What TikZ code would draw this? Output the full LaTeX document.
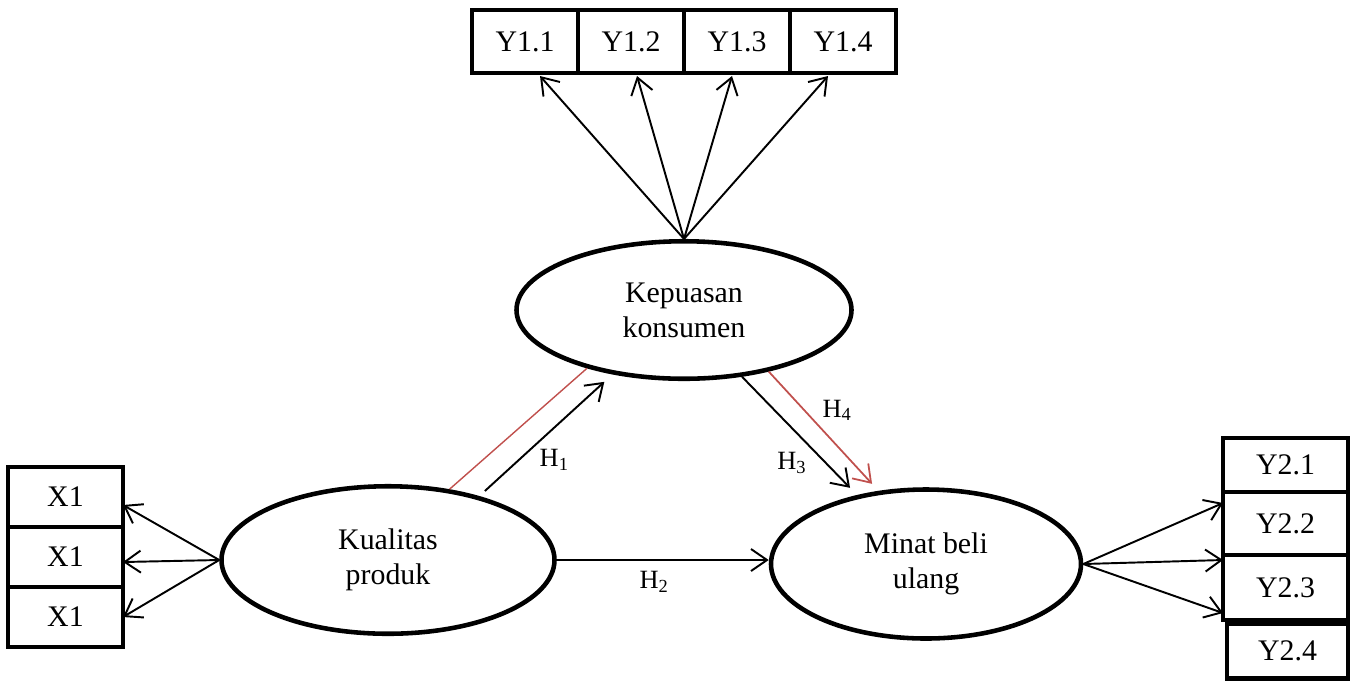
\documentclass[tikz,border=0pt]{standalone}
\usepackage{fontspec}
\setmainfont{Liberation Serif}
\usetikzlibrary{shapes.geometric,arrows.meta}
\definecolor{hred}{RGB}{192,80,77}

\tikzset{
  indikator/.style={draw, line width=2.4pt, minimum height=1.26cm, inner sep=0pt, outer sep=0pt, font=\fontsize{17}{20}\selectfont},
  variabel/.style={ellipse, draw, line width=2.6pt, align=center, font=\fontsize{17}{20}\selectfont},
  panah/.style={-{Straight Barb[length=3.2mm,width=4.4mm]}, line width=1.1pt},
  hlabel/.style={font=\fontsize{15}{18}\selectfont, inner sep=2pt}
}

\begin{document}
\begin{tikzpicture}
  \useasboundingbox (0,0) rectangle (27.08,-13.64);
  % variabel laten
  \node[variabel, minimum width=6.7cm, minimum height=2.75cm] (kep) at (13.68,-6.2) {Kepuasan\\konsumen};
  \node[variabel, minimum width=6.66cm, minimum height=2.95cm] (kual) at (7.76,-11.2) {Kualitas\\produk};
  \node[variabel, minimum width=6.2cm, minimum height=2.98cm] (minat) at (18.52,-11.28) {Minat beli\\ulang};

  % indikator Y1
  \node[indikator, minimum width=2.12cm] (y11) at (10.50,-0.83) {Y1.1};
  \node[indikator, minimum width=2.12cm] (y12) at (12.62,-0.83) {Y1.2};
  \node[indikator, minimum width=2.12cm] (y13) at (14.74,-0.83) {Y1.3};
  \node[indikator, minimum width=2.12cm] (y14) at (16.86,-0.83) {Y1.4};

  % indikator X
  \node[indikator, minimum width=2.3cm, minimum height=1.2cm] (x1a) at (1.31,-9.94) {X1};
  \node[indikator, minimum width=2.3cm, minimum height=1.2cm] (x1b) at (1.31,-11.14) {X1};
  \node[indikator, minimum width=2.3cm, minimum height=1.2cm] (x1c) at (1.31,-12.34) {X1};

  % indikator Y2
  \node[indikator, minimum width=2.5cm, minimum height=1.08cm] (y21) at (25.71,-9.3) {Y2.1};
  \node[indikator, minimum width=2.5cm, minimum height=1.26cm] (y22) at (25.71,-10.47) {Y2.2};
  \node[indikator, minimum width=2.5cm, minimum height=1.3cm] (y23) at (25.71,-11.75) {Y2.3};
  \node[indikator, minimum width=2.42cm, minimum height=1.1cm] (y24) at (25.75,-13.02) {Y2.4};

  % panah ke indikator
  \draw[panah] (kep.north) -- ([xshift=0.3cm,yshift=-0.06cm]y11.south);
  \draw[panah] (kep.north) -- ([xshift=0.12cm,yshift=-0.06cm]y12.south);
  \draw[panah] (kep.north) -- ([xshift=-0.1cm,yshift=-0.06cm]y13.south);
  \draw[panah] (kep.north) -- ([xshift=-0.3cm,yshift=-0.06cm]y14.south);

  \draw[panah] (kual.west) -- ([yshift=-0.16cm]x1a.east);
  \draw[panah] (kual.west) -- ([yshift=-0.1cm]x1b.east);
  \draw[panah] (kual.west) -- (x1c.east);

  \draw[panah] (minat.east) -- ([yshift=-0.22cm]y22.north west);
  \draw[panah] (minat.east) -- ([yshift=-0.1cm]y22.south west);
  \draw[panah] (minat.east) -- ([yshift=0.14cm]y23.south west);

  % hipotesis
  \draw[hred, line width=0.8pt] (kual.49) -- (kep.211);
  \draw[panah, shorten <=0.15cm, shorten >=0.22cm] (kual.35) -- (kep.222)
    node[pos=0.42, below right, hlabel] {H\textsubscript{1}};
  \draw[panah] (kual.east) -- (kual.east -| minat.west)
    node[pos=0.46, below=4pt, hlabel] {H\textsubscript{2}};
  \draw[panah, shorten >=0.2cm] (kep.-49.5) -- (minat.135)
    node[pos=0.6, below left, hlabel] {H\textsubscript{3}};
  \draw[panah, hred, line width=1pt, shorten >=0.19cm] (kep.-36.8) -- (minat.123.5)
    node[pos=0.45, above right, hlabel, black] {H\textsubscript{4}};
\end{tikzpicture}
\end{document}
